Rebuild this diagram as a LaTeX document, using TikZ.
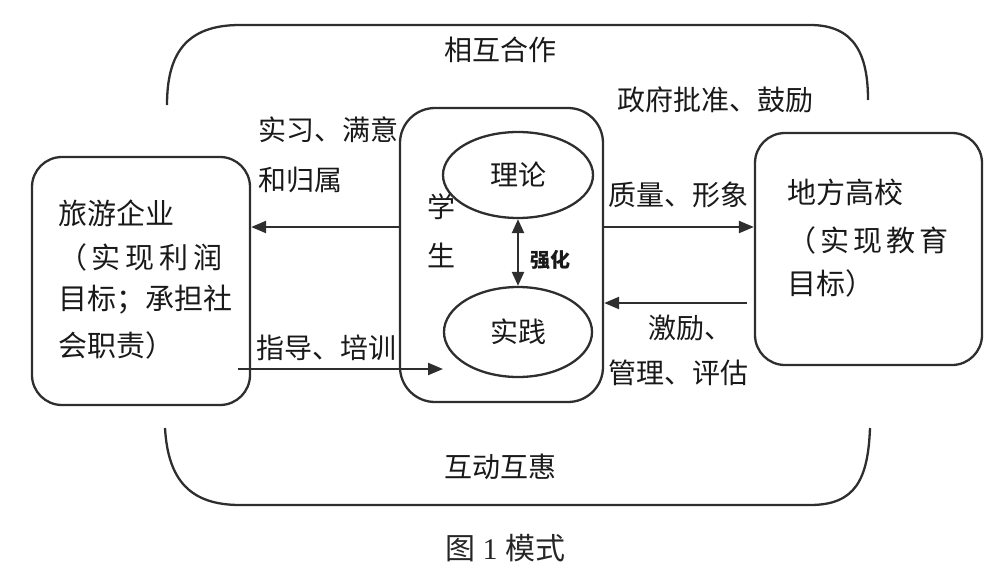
\documentclass[tikz,border=0pt]{standalone}
\usepackage{fontspec}
\setmainfont{Liberation Serif}
\newfontfamily\cjk{Noto Sans CJK SC}
\usetikzlibrary{arrows.meta,shapes.geometric,calc}
\begin{document}
\begin{tikzpicture}[x=1pt,y=-1pt,
  ln/.style={line width=2.3pt, draw=black!82},
  box/.style={ln, rounded corners=30pt, inner sep=0pt},
  ell/.style={ln, ellipse, inner sep=0pt, font=\cjk\fontsize{28}{30}\selectfont, text=black!90},
  arr/.style={ln, -{Triangle[length=15pt,width=12pt]}},
  lbl/.style={font=\cjk\fontsize{28}{30}\selectfont, inner sep=0pt, text=black!90},
  btxt/.style={font=\cjk\fontsize{29}{31}\selectfont, inner sep=0pt, text=black!90, anchor=west},
]
\useasboundingbox (0,0) rectangle (1000,586);

% outer arcs
\draw[ln] (167,105) .. controls (167,55) and (185,25) .. (240,25) -- (810,25) .. controls (855,25) and (868,55) .. (868,100);
\draw[ln] (165,428) .. controls (168,480) and (190,505) .. (240,505) -- (810,505) .. controls (855,505) and (868,480) .. (870,428);
\node[lbl] (coop) at (500,50) {相互合作};
\node[lbl] (inter) at (500,467) {互动互惠};

% boxes
\node[box, minimum width=218pt, minimum height=248pt] (ent) at (141,281) {};
\node[box, rounded corners=35pt, minimum width=203pt, minimum height=294pt] (stu) at (501.5,255) {};
\node[box, minimum width=227pt, minimum height=232pt] (uni) at (868.5,249) {};

% box texts
\node[btxt] (e1) at (58,213) {旅游企业};
\node[btxt] (e2) at (58,257) {\makebox[164pt][s]{（\hfill 实\hfill 现\hfill 利\hfill 润}};
\node[btxt] (e3) at (58,300) {目标；承担社};
\node[btxt] (e4) at (58,345) {会职责）};

\node[btxt] (u1) at (787,192) {地方高校};
\node[btxt] (u2) at (787,240) {\makebox[161pt][s]{（\hfill 实\hfill 现\hfill 教\hfill 育}};
\node[btxt] (u3) at (787,283) {目标）};

\node[lbl] (s1) at (441,207) {学};
\node[lbl] (s2) at (441,255) {生};

% ellipses
\node[ell, minimum width=150pt, minimum height=86pt] (th) at (518,175) {理论};
\node[ell, minimum width=148pt, minimum height=90pt] (pr) at (518,332) {实践};
\draw[ln, {Triangle[length=14pt,width=12pt]}-{Triangle[length=14pt,width=12pt]}] (th.south) -- (pr.north);
\node[font=\cjk\bfseries\fontsize{20}{22}\selectfont, inner sep=0pt, text=black!90] (qh) at (550,260) {强化};

% connectors
\coordinate (y1) at (0,227);
\coordinate (gs) at (238,369);
\coordinate (ge) at (443,369);
\coordinate (ms) at (747,303);
\draw[arr] (stu.west |- y1) -- (ent.east |- y1);
\draw[arr] (gs) -- (ge);
\draw[arr] (stu.east |- y1) -- (uni.west |- y1);
\draw[arr] (ms) -- (stu.east |- ms);

% labels
\node[lbl, anchor=west] (l1) at (258,130) {实习、满意};
\node[lbl, anchor=west] (l2) at (258,180) {和归属};
\node[lbl, anchor=west] (l3) at (256,348) {指导、培训};
\node[lbl] (l4) at (715,100) {政府批准、鼓励};
\node[lbl] (l5) at (678,195) {质量、形象};
\node[lbl] (l6) at (690,328) {激励、};
\node[lbl] (l7) at (678,373) {管理、评估};

% caption
\node[font=\fontsize{30}{32}\selectfont, inner sep=0pt, text=black!85] (cap) at (505,548) {{\cjk 图} 1 {\cjk 模式}};
\end{tikzpicture}
\end{document}
